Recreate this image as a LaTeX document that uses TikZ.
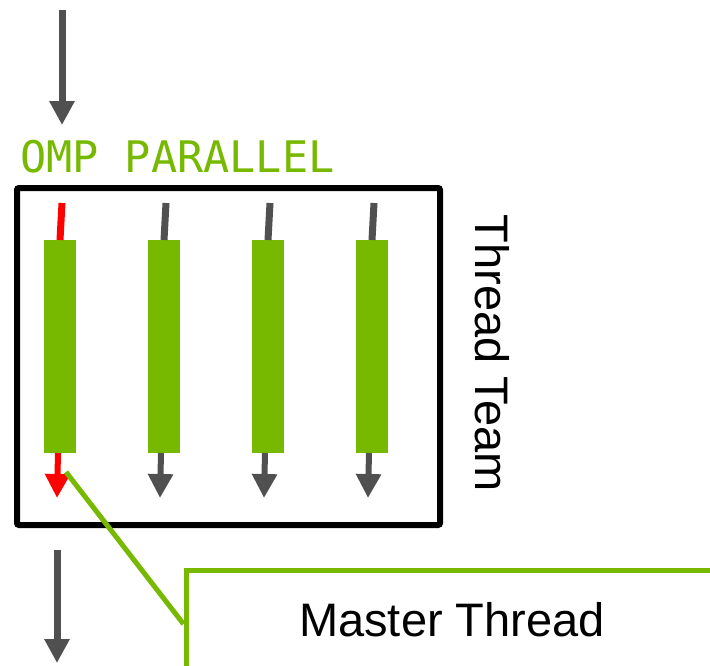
\documentclass[tikz,border=0pt]{standalone}
\usepackage{fontspec}
\setmainfont{Liberation Sans}
\newfontfamily\monofont{DejaVu Sans Mono}
\usetikzlibrary{arrows.meta, positioning}
\definecolor{nvgreen}{HTML}{76B900}
\definecolor{pfeilgrau}{HTML}{505050}
\tikzset{bar/.style={fill=nvgreen, minimum width=32, minimum height=213, inner sep=0pt, outer sep=0pt}}

\begin{document}
\begin{tikzpicture}[x=1pt, y=-1pt, >={Triangle[width=24pt,length=24pt]},   %Voreinstellung für Pfeilspitzen
		thr/.style={line width=6pt, pfeilgrau, ->},
		tick/.style={line width=7pt, pfeilgrau},
		lbl/.style={inner sep=0pt, font=\fontsize{47}{47}\selectfont}]
		\useasboundingbox (0,0) rectangle (710,665);
		\clip (0,0) rectangle (710,665);
		%Ein- und Ausgang
		\coordinate (in0) at (62,10);
		\coordinate (in1) at (62,125);
		\coordinate (out0) at (57,550);
		\coordinate (out1) at (57,663);
		\draw[thr, line width=7pt] (in0) -- (in1);
		\draw[thr, line width=7pt] (out0) -- (out1);
		\node[anchor=base west, inner sep=0pt, text=nvgreen, font=\monofont\fontsize{43.5}{43.5}\selectfont] (omp) at (20,172) {OMP PARALLEL};
		%Team
		\node[draw, line width=6pt, rounded corners=2pt, minimum width=423, minimum height=337, inner sep=0pt] (team) at (228.5,356.5) {};
		\node[bar] (b1) at (60,346.5) {};
		\node[bar] (b2) at (164,346.5) {};
		\node[bar] (b3) at (268,346.5) {};
		\node[bar] (b4) at (372,346.5) {};
		\draw[tick, red] (b1.north) -- ++(2,-37);
		\draw[tick] (b2.north) -- ++(2,-37);
		\draw[tick] (b3.north) -- ++(2,-37);
		\draw[tick] (b4.north) -- ++(2,-37);
		\draw[thr, red] ([xshift=-2pt]b1.south) -- ++(-1,45) coordinate (r1);
		\draw[thr] ([xshift=-3pt]b2.south) -- ++(-1,45);
		\draw[thr] ([xshift=-3pt]b3.south) -- ++(-1,45);
		\draw[thr] ([xshift=-3pt]b4.south) -- ++(-1,45);
		\node[lbl, rotate=-90] (tt) at (492,353) {Thread Team};
		%Master Thread
		\node[draw=nvgreen, line width=5pt, minimum width=532, minimum height=100, lbl] (master) at (452,620) {Master Thread};
		\coordinate (ms) at (66,472);
		\draw[nvgreen, line width=5pt] (ms) -- ([yshift=-4pt]master.west);
\end{tikzpicture}
\end{document}
